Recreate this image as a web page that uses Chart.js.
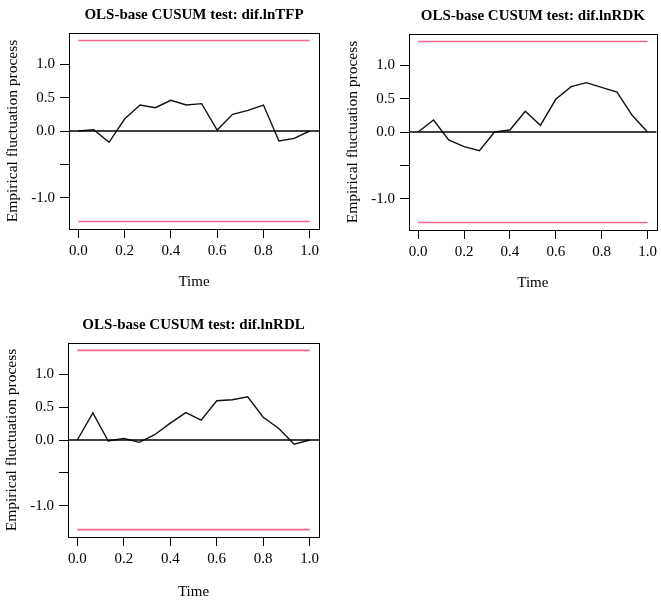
<!DOCTYPE html>
<html>
<head>
<meta charset="utf-8">
<script src="https://cdn.jsdelivr.net/npm/chart.js@4/dist/chart.umd.min.js"></script>
<style>
    html, body { margin: 0; padding: 0; background: #fff; }
    body { width: 661px; height: 604px; position: relative; overflow: hidden; }
    .panel { position: absolute; }
</style>
</head>
<body>
<div class="panel" style="left:0px; top:0px; width:330px; height:302px;"><canvas id="chartTFP"></canvas></div>
<div class="panel" style="left:340px; top:1px; width:321px; height:302px;"><canvas id="chartRDK"></canvas></div>
<div class="panel" style="left:-1px; top:310px; width:331px; height:294px;"><canvas id="chartRDL"></canvas></div>
<script>
// time axis (k/15) and the CUSUM processes
const timePoints = [0, 0.067, 0.133, 0.2, 0.267, 0.333, 0.4, 0.467, 0.533, 0.6, 0.667, 0.733, 0.8, 0.867, 0.933, 1.0];
const cusumTFP = [0, 0.02, -0.17, 0.18, 0.39, 0.35, 0.46, 0.39, 0.41, 0.015, 0.25, 0.31, 0.39, -0.15, -0.11, 0.0];
const cusumRDK = [0, 0.18, -0.12, -0.22, -0.28, 0.0, 0.03, 0.31, 0.10, 0.49, 0.68, 0.74, 0.67, 0.60, 0.25, 0.0];
const cusumRDL = [0, 0.41, -0.015, 0.025, -0.035, 0.08, 0.255, 0.415, 0.30, 0.595, 0.61, 0.655, 0.345, 0.175, -0.065, 0.0];

const boundary = 1.358;
const xTicks = [0, 0.2, 0.4, 0.6, 0.8, 1.0];
const yTicks = [-1.0, -0.5, 0.0, 0.5, 1.0];
const yTickLabels = ['-1.0', '', '0.0', '0.5', '1.0'];
const xRange = [-0.04, 1.04];
const yRange = [-1.47, 1.47];

const serif = "'Liberation Serif', 'Times New Roman', serif";

// box around plot region + main title, R style
const framePlugin = {
    id: 'frame',
    afterDatasetsDraw(chart, args, opts) {
        const a = chart.chartArea;
        const ctx = chart.ctx;
        ctx.save();
        ctx.strokeStyle = '#000';
        ctx.lineWidth = 1;
        ctx.strokeRect(Math.round(a.left) + 0.5, Math.round(a.top) + 0.5, Math.round(a.right - a.left), Math.round(a.bottom - a.top));
        ctx.fillStyle = '#000';
        ctx.font = 'bold 15px ' + serif;
        ctx.textAlign = 'center';
        ctx.textBaseline = 'alphabetic';
        ctx.fillText(opts.text, (a.left + a.right) / 2, opts.baseline);
        ctx.restore();
    }
};

function makeChart(id, title, values, pad) {
    const ctx = document.getElementById(id).getContext('2d');
    const process = timePoints.map((t, i) => ({ x: t, y: values[i] }));

    return new Chart(ctx, {
        type: 'line',
        data: {
            datasets: [
                {
                    data: [{ x: xRange[0], y: 0 }, { x: xRange[1], y: 0 }],
                    borderColor: '#000',
                    borderWidth: 1.3,
                    pointRadius: 0
                },
                {
                    data: [{ x: 0, y: boundary }, { x: 1, y: boundary }],
                    borderColor: '#f2688a',
                    borderWidth: 1.6,
                    pointRadius: 0
                },
                {
                    data: [{ x: 0, y: -boundary }, { x: 1, y: -boundary }],
                    borderColor: '#f2688a',
                    borderWidth: 1.6,
                    pointRadius: 0
                },
                {
                    label: title,
                    data: process,
                    borderColor: '#111',
                    borderWidth: 1.4,
                    pointRadius: 0,
                    tension: 0
                }
            ]
        },
        options: {
            responsive: true,
            maintainAspectRatio: false,
            animation: false,
            layout: {
                padding: { top: pad.top, right: pad.right, left: 0, bottom: 0 }
            },
            plugins: {
                legend: { display: false },
                tooltip: { enabled: false },
                frame: { text: title, baseline: pad.titleBase }
            },
            scales: {
                x: {
                    type: 'linear',
                    min: xRange[0],
                    max: xRange[1],
                    afterBuildTicks: s => { s.ticks = xTicks.map(v => ({ value: v })); },
                    afterFit: s => { s.height = pad.xHeight; },
                    grid: { drawOnChartArea: false, tickLength: 9, tickColor: '#000' },
                    border: { display: false },
                    ticks: {
                        color: '#000',
                        font: { family: serif, size: 15 },
                        padding: 4,
                        maxRotation: 0,
                        callback: v => v.toFixed(1)
                    },
                    title: {
                        display: true,
                        text: 'Time',
                        color: '#000',
                        font: { family: serif, size: 15 },
                        padding: { top: 0, bottom: pad.timePad }
                    }
                },
                y: {
                    type: 'linear',
                    min: yRange[0],
                    max: yRange[1],
                    afterBuildTicks: s => { s.ticks = yTicks.map(v => ({ value: v })); },
                    afterFit: s => { s.width = pad.yWidth; },
                    grid: { drawOnChartArea: false, tickLength: 9, tickColor: '#000' },
                    border: { display: false },
                    ticks: {
                        color: '#000',
                        font: { family: serif, size: 15 },
                        padding: 5,
                        callback: (v, i) => yTickLabels[i]
                    },
                    title: {
                        display: true,
                        text: 'Empirical fluctuation process',
                        color: '#000',
                        font: { family: serif, size: 15.5 },
                        padding: { top: 4, bottom: 0 }
                    }
                }
            }
        },
        plugins: [framePlugin]
    });
}

makeChart('chartTFP', 'OLS-base CUSUM test: dif.lnTFP', cusumTFP,
    { top: 33, right: 11, yWidth: 69, xHeight: 73, timePad: 11, titleBase: 19 });
makeChart('chartRDK', 'OLS-base CUSUM test: dif.lnRDK', cusumRDK,
    { top: 33, right: 3, yWidth: 69, xHeight: 73, timePad: 11, titleBase: 19 });
makeChart('chartRDL', 'OLS-base CUSUM test: dif.lnRDL', cusumRDL,
    { top: 33, right: 11, yWidth: 69, xHeight: 67, timePad: 3, titleBase: 19 });
</script>
</body>
</html>
